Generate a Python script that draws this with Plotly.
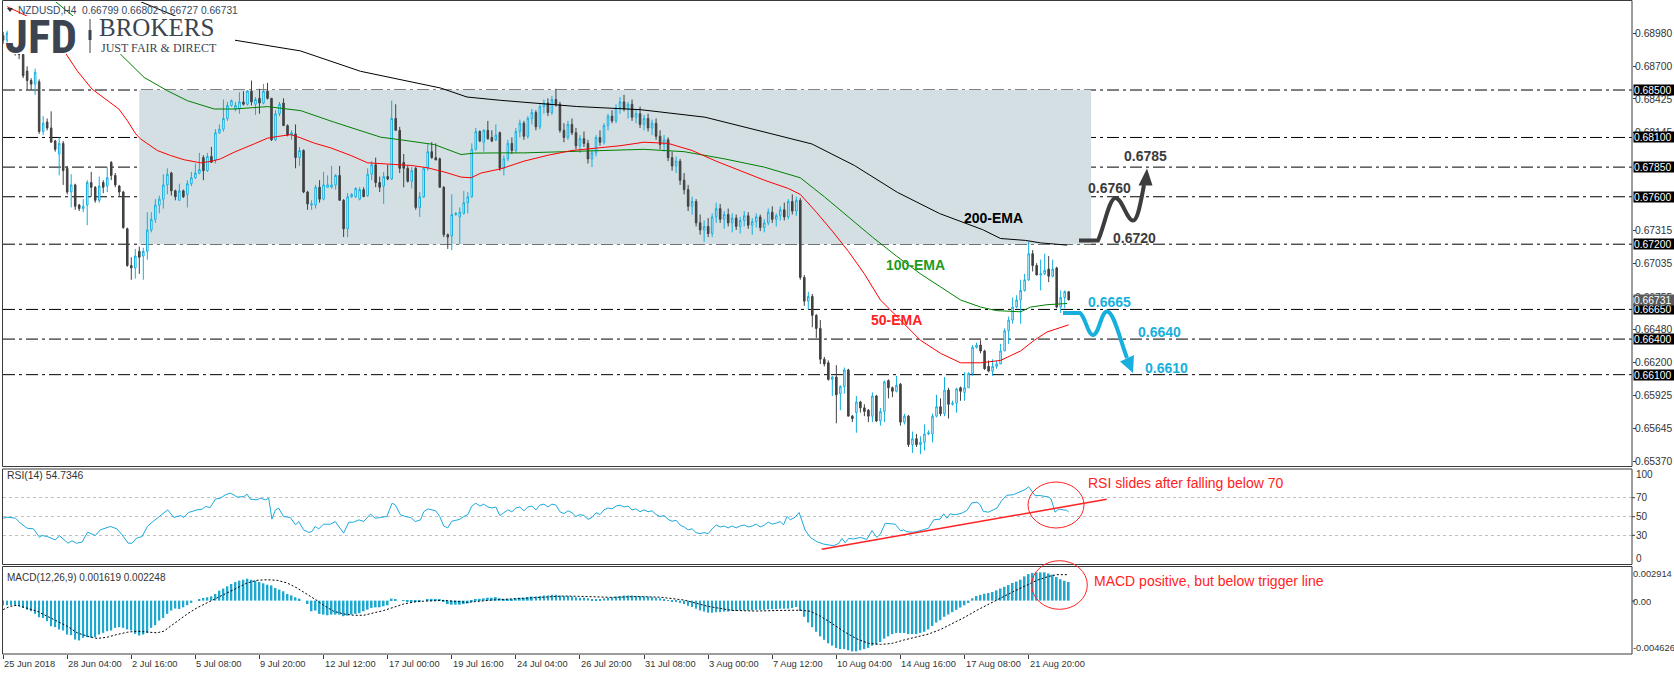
import plotly.graph_objects as go

W, H = 1674, 675
FONT = "Liberation Sans, Arial, sans-serif"
TXT = "#333333"
CYAN = "#12aee0"
DARK = "#404040"

# ---------------- candles (H4 bars, index 0 = 25 Jun 2018) ----------------
opens = [
    .6896, .6892, .6898, .6887, .6884, .6880, .6866, .6858, .6855, .6857,
    .6815, .6823, .6818, .6807, .6796, .6805, .6784, .6764, .6770, .6753,
    .6750, .6753, .6772, .6768, .6757, .6772, .6769, .6789, .6778, .6769,
    .6764, .6733, .6702, .6700, .6714, .6710, .6714, .6732, .6741, .6753,
    .6758, .6770, .6780, .6765, .6757, .6765, .6762, .6771, .6776, .6780,
    .6793, .6782, .6794, .6791, .6814, .6817, .6826, .6837, .6834, .6834,
    .6840, .6838, .6849, .6838, .6843, .6839, .6849, .6843, .6808, .6830,
    .6839, .6820, .6812, .6813, .6793, .6799, .6764, .6753, .6753, .6768,
    .6758, .6768, .6768, .6770, .6778, .6757, .6733, .6760, .6760, .6758,
    .6766, .6761, .6779, .6787, .6772, .6769, .6777, .6775, .6826, .6816,
    .6789, .6784, .6773, .6784, .6751, .6760, .6784, .6798, .6793, .6792,
    .6768, .6728, .6727, .6745, .6743, .6746, .6755, .6760, .6800, .6815,
    .6806, .6816, .6810, .6808, .6814, .6784, .6792, .6805, .6799, .6815,
    .6822, .6811, .6826, .6831, .6819, .6836, .6839, .6831, .6842, .6838,
    .6816, .6810, .6821, .6814, .6803, .6809, .6805, .6792, .6797, .6810,
    .6806, .6820, .6828, .6824, .6835, .6840, .6834, .6838, .6827, .6830,
    .6821, .6826, .6818, .6822, .6811, .6804, .6808, .6793, .6786, .6790,
    .6774, .6766, .6752, .6756, .6738, .6732, .6735, .6729, .6743, .6750,
    .6741, .6745, .6738, .6742, .6735, .6740, .6744, .6736, .6739, .6743,
    .6734, .6738, .6747, .6741, .6744, .6749, .6743, .6756, .6748, .6757,
    .6692, .6672, .6676, .6660, .6649, .6623, .6620, .6606, .6608, .6594,
    .6600, .6614, .6575, .6578, .6587, .6582, .6580, .6575, .6592, .6571,
    .6579, .6605, .6599, .6596, .6602, .6570, .6575, .6551, .6556, .6551,
    .6553, .6560, .6560, .6575, .6583, .6577, .6597, .6585, .6586, .6599,
    .6595, .6599, .6611, .6633, .6635, .6630, .6617, .6613, .6617, .6619,
    .6630, .6647, .6656, .6667, .6673, .6681, .6690, .6712, .6702, .6694,
    .6695, .6699, .6693, .6700, .6667, .6675, .66799,
]
highs = [
    .6899, .6900, .6899, .6890, .6886, .6882, .6870, .6860, .6868, .6859,
    .6828, .6826, .6832, .6808, .6810, .6807, .6786, .6779, .6771, .6754,
    .6758, .6774, .6781, .6769, .6777, .6774, .6785, .6790, .6780, .6770,
    .6765, .6734, .6709, .6716, .6718, .6717, .6747, .6747, .6758, .6761,
    .6779, .6784, .6781, .6766, .6771, .6766, .6774, .6781, .6788, .6797,
    .6795, .6797, .6802, .6817, .6821, .6842, .6840, .6842, .6840, .6848,
    .6849, .6850, .6858, .6844, .6851, .6855, .6856, .6843, .6833, .6840,
    .6843, .6821, .6816, .6821, .6802, .6800, .6765, .6757, .6770, .6774,
    .6781, .6778, .6786, .6779, .6786, .6758, .6763, .6763, .6768, .6768,
    .6768, .6784, .6790, .6793, .6777, .6781, .6787, .6841, .6838, .6819,
    .6796, .6786, .6785, .6785, .6764, .6785, .6805, .6806, .6805, .6793,
    .6769, .6729, .6762, .6747, .6751, .6765, .6764, .6805, .6818, .6816,
    .6817, .6824, .6816, .6821, .6815, .6795, .6808, .6810, .6818, .6825,
    .6824, .6828, .6834, .6833, .6838, .6842, .6843, .6845, .6851, .6840,
    .6822, .6824, .6826, .6818, .6812, .6815, .6808, .6800, .6812, .6816,
    .6822, .6830, .6833, .6838, .6844, .6846, .6840, .6842, .6834, .6836,
    .6829, .6830, .6825, .6826, .6816, .6812, .6810, .6798, .6794, .6792,
    .6780, .6770, .6760, .6758, .6745, .6740, .6742, .6746, .6755, .6754,
    .6748, .6750, .6746, .6745, .6743, .6748, .6747, .6742, .6746, .6745,
    .6741, .6750, .6752, .6746, .6752, .6755, .6758, .6762, .6760, .6759,
    .6694, .6680, .6678, .6661, .6656, .6625, .6622, .6609, .6618, .6601,
    .6616, .6615, .6576, .6592, .6588, .6585, .6581, .6595, .6593, .6582,
    .6605, .6606, .6600, .6609, .6603, .6577, .6576, .6562, .6560, .6558,
    .6568, .6563, .6577, .6593, .6590, .6608, .6599, .6588, .6599, .6600,
    .6612, .6612, .6635, .6637, .6639, .6631, .6622, .6623, .6622, .6636,
    .6649, .6659, .6675, .6677, .6690, .6695, .6722, .6715, .6704, .6707,
    .6712, .6710, .6707, .6701, .6681, .6681, .66802,
]
lows = [
    .6889, .6890, .6885, .6879, .6876, .6860, .6850, .6850, .6846, .6813,
    .6812, .6816, .6806, .6798, .6778, .6770, .6762, .6751, .6749, .6748,
    .6747, .6736, .6760, .6755, .6755, .6763, .6764, .6774, .6768, .6760,
    .6733, .6701, .6690, .6691, .6695, .6690, .6707, .6730, .6738, .6746,
    .6750, .6762, .6761, .6757, .6757, .6759, .6751, .6769, .6775, .6779,
    .6774, .6781, .6789, .6788, .6813, .6815, .6824, .6836, .6832, .6830,
    .6837, .6837, .6837, .6829, .6830, .6838, .6842, .6807, .6807, .6828,
    .6820, .6811, .6808, .6784, .6786, .6763, .6749, .6749, .6750, .6755,
    .6757, .6768, .6767, .6766, .6757, .6726, .6726, .6759, .6759, .6757,
    .6760, .6760, .6774, .6768, .6764, .6754, .6774, .6774, .6816, .6780,
    .6768, .6772, .6767, .6749, .6743, .6759, .6782, .6792, .6791, .6768,
    .6726, .6716, .6715, .6744, .6720, .6745, .6746, .6759, .6799, .6806,
    .6798, .6808, .6806, .6807, .6782, .6778, .6790, .6796, .6797, .6810,
    .6808, .6809, .6821, .6816, .6817, .6830, .6828, .6829, .6836, .6814,
    .6806, .6808, .6812, .6800, .6797, .6802, .6788, .6785, .6794, .6803,
    .6804, .6816, .6822, .6822, .6830, .6832, .6826, .6824, .6822, .6818,
    .6816, .6815, .6812, .6808, .6800, .6798, .6790, .6782, .6780, .6770,
    .6762, .6748, .6745, .6735, .6728, .6722, .6726, .6726, .6738, .6738,
    .6733, .6735, .6730, .6732, .6729, .6735, .6733, .6728, .6734, .6731,
    .6730, .6736, .6738, .6735, .6740, .6740, .6741, .6745, .6744, .6690,
    .6668, .6665, .6650, .6641, .6619, .6617, .6605, .6592, .6569, .6580,
    .6594, .6575, .6570, .6561, .6578, .6575, .6570, .6570, .6570, .6567,
    .6570, .6590, .6591, .6595, .6567, .6568, .6549, .6544, .6549, .6543,
    .6546, .6559, .6553, .6574, .6575, .6575, .6573, .6584, .6578, .6588,
    .6588, .6599, .6609, .6632, .6628, .6614, .6612, .6609, .6615, .6619,
    .6630, .6636, .6653, .6666, .6653, .6680, .6689, .6697, .6694, .6681,
    .6694, .6688, .6692, .6666, .6662, .6666, .66727,
]
closes = [
    .6892, .6898, .6887, .6884, .6880, .6862, .6858, .6855, .6865, .6815,
    .6822, .6818, .6806, .6800, .6805, .6782, .6764, .6770, .6752, .6750,
    .6752, .6772, .6768, .6757, .6769, .6768, .6776, .6778, .6770, .6764,
    .6734, .6702, .6700, .6710, .6709, .6714, .6732, .6741, .6753, .6758,
    .6770, .6779, .6765, .6760, .6765, .6760, .6771, .6776, .6780, .6783,
    .6782, .6794, .6789, .6814, .6817, .6826, .6837, .6841, .6837, .6840,
    .6838, .6849, .6840, .6842, .6839, .6849, .6843, .6808, .6830, .6838,
    .6820, .6812, .6814, .6793, .6799, .6764, .6754, .6754, .6768, .6758,
    .6770, .6770, .6770, .6778, .6757, .6733, .6760, .6762, .6767, .6766,
    .6760, .6779, .6787, .6772, .6768, .6777, .6775, .6826, .6816, .6784,
    .6784, .6773, .6782, .6751, .6760, .6784, .6798, .6793, .6791, .6768,
    .6728, .6726, .6745, .6746, .6747, .6755, .6760, .6800, .6815, .6807,
    .6816, .6809, .6807, .6812, .6784, .6792, .6805, .6799, .6815, .6822,
    .6811, .6826, .6831, .6819, .6836, .6839, .6831, .6842, .6838, .6816,
    .6810, .6821, .6814, .6803, .6809, .6805, .6792, .6797, .6810, .6806,
    .6820, .6828, .6824, .6835, .6840, .6834, .6838, .6827, .6830, .6821,
    .6826, .6818, .6822, .6811, .6804, .6808, .6793, .6786, .6790, .6774,
    .6766, .6752, .6756, .6738, .6732, .6735, .6729, .6743, .6750, .6741,
    .6745, .6738, .6742, .6735, .6740, .6744, .6736, .6739, .6743, .6734,
    .6738, .6747, .6741, .6744, .6749, .6743, .6756, .6748, .6757, .6692,
    .6672, .6676, .6660, .6649, .6623, .6619, .6606, .6608, .6593, .6600,
    .6614, .6575, .6573, .6587, .6582, .6579, .6575, .6592, .6571, .6579,
    .6604, .6599, .6596, .6601, .6570, .6575, .6551, .6556, .6551, .6553,
    .6560, .6561, .6575, .6583, .6577, .6597, .6585, .6586, .6598, .6596,
    .6599, .6611, .6633, .6635, .6630, .6615, .6613, .6617, .6619, .6630,
    .6647, .6656, .6667, .6673, .6681, .6690, .6712, .6702, .6694, .6695,
    .6698, .6693, .6699, .6667, .6675, .6680, .66731,
]
bars = list(range(len(opens)))

# ---------------- moving averages ----------------
ema50_bar = [1, 6.3, 15.6, 18.5, 22.2, 26, 28.9, 31, 33.1, 34.3, 36, 38.5, 41.8, 45.2, 49.3, 52.2,
             54.3, 57.7, 62.7, 66, 68.5, 71.8, 74.3, 77.7, 81.8, 86.8, 91, 96, 101.8, 106, 110.2,
             114.3, 116.8, 119.3, 124.3, 130, 136, 142, 148, 154, 160, 166, 172, 178, 184, 190,
             196, 199, 203, 207, 211, 215, 219, 224, 229, 234, 239, 244, 249, 254, 257.4, 260.6, 266]
ema50_val = [.69203, .69118, .68810, .68662, .68508, .68410, .68340, .68242, .68130, .68088, .68046,
             .67990, .67948, .67912, .67886, .67900, .67920, .67976, .68046, .68094, .68108, .68124,
             .68096, .68052, .68012, .67948, .67886, .67878, .67864, .67844, .67808, .67766, .67760,
             .67800, .67836, .6790, .6795, .6799, .6801, .6803, .6806, .6805, .6799, .6790, .6782,
             .6774, .6767, .6762, .6747, .6731, .6714, .6695, .6673, .6656, .6639, .6628, .6620,
             .6620, .6622, .6630, .6639, .6646, .6652]

ema100_bar = [13.1, 15.6, 29.3, 35.2, 41, 46, 52.7, 57.7, 66, 71, 74.3, 82.7, 94.3, 99.3, 107.7,
              114.3, 117.7, 124.3, 130, 140, 150, 160, 170, 180, 190, 199, 205, 211, 217, 223, 229,
              234, 239, 244, 248, 254, 256.5, 260.6, 265.6]
ema100_val = [.69245, .69175, .68802, .68606, .68494, .68410, .68340, .68340, .68360, .68340, .68326,
              .68228, .68102, .68080, .68040, .67956, .67968, .67970, .6797, .6798, .6799, .6800,
              .6798, .6792, .6785, .6776, .6760, .6743, .6726, .6710, .6695, .6684, .6673, .6667,
              .6664, .6663, .6667, .6669, .6670]

ema200_bar = [34.3, 57.5, 74.2, 89.2, 109.2, 115.8, 124.2, 143.2, 159.2, 175.2, 191.2, 201.9, 212.5,
              223.2, 233.8, 244.5, 249, 255.2, 259, 265.6]
ema200_val = [.69245, .68922, .68830, .68658, .68517, .68441, .68413, .68361, .68334, .68271, .68136,
              .68045, .67864, .67638, .67458, .67323, .67248, .67232, .67211, .67192]

# ---------------- RSI(14) ----------------
rsi_bar = [0, 1, 3.1, 4.3, 6, 7.6, 9.1, 9.7, 11, 13, 14.1, 15.1, 16.2, 17.2, 18.3, 19.7, 21.1, 23,
           24.3, 26.8, 28.4, 29.7, 31.2, 32.2, 33.3, 34.7, 36, 37.2, 38.4, 40.1, 41.1, 42.6, 44.3,
           45.1, 46.3, 48.4, 49.7, 50.5, 51.7, 53, 54.2, 55.5, 56.7, 57.6, 58.4, 60.1, 60.9, 61.7,
           63.4, 64.2, 65.5, 66.3, 67.1, 68, 68.8, 70, 71.7, 73, 73.8, 75, 76.3, 77.1, 77.9, 78.8,
           80, 81.7, 82.9, 83.8, 85, 86.3, 87.5, 88.8, 90, 91.7, 92.9, 94.2, 95.8, 97.1, 97.9, 99.2,
           100.4, 101.7, 102.9, 104.2,
           105, 106, 107, 108, 109, 110, 111, 112, 113, 114, 115, 116, 117, 118, 119, 120, 121, 122,
           123, 124, 125, 126, 127, 128, 129, 130, 131, 132, 133, 134, 135, 136, 137, 138, 139, 140,
           141, 142, 143, 144, 145, 146, 147, 148, 149, 150, 151, 152, 153, 154, 155, 156, 157, 158,
           159, 160, 161, 162, 163, 164, 165, 166, 167, 168, 169, 170, 171, 172, 173, 174, 175, 176,
           177, 178, 179, 180, 181, 182, 183, 184, 185, 186, 187, 188, 189, 190, 191, 192, 193,
           194, 194.8, 195.7, 196.5, 197.7, 198.7, 199.4, 200.2, 201.5, 203.2, 204.8, 206.1, 207.3,
           208.6, 209.4, 210.2, 211.1, 212.3, 214, 215.6, 216.9, 218.1, 219, 220.2, 221.5, 222.7,
           224, 224.8, 225.6, 226.9, 228.1, 229.8, 231, 232.3, 233.9, 234.8, 235.6, 236.4, 237.7,
           239.3, 240.6, 241.8, 243.1, 243.9, 244.7, 246, 248.1, 249.3, 250.6, 252.2, 253.9, 255.1,
           256, 256.8, 257.6, 258.9, 260.1, 261, 261.6, 262.1, 262.6, 263.5, 264.3, 265.5, 266]
rsi_val = [48.2, 49.3, 48.2, 43.0, 37.7, 37.0, 27.9, 30, 28.9, 25.4, 29.6, 25.4, 21.9, 24.4, 21.9, 23,
           33.5, 30, 36, 39.5, 37, 30.7, 21.9, 21.9, 27.2, 28.9, 39.5, 44, 48.2, 53.5, 57, 49, 51, 49,
           54.2, 57, 57.7, 60.5, 59.5, 68.3, 69.3, 72.8, 74.6, 72.8, 70.4, 71, 73.5, 68.3, 67.5, 69.3,
           67.5, 69.3, 47.2, 57, 58.8, 50, 49, 41.2, 44.7, 36, 33.2, 34.2, 39.5, 37, 41.9, 41.9, 44.7,
           39.5, 32.5, 44, 44, 46.5, 44.7, 52.5, 48.2, 49, 50, 64, 62.3, 51.8, 50, 49, 44.7, 46.5,
           55, 58, 57, 56, 50, 40, 38, 45, 46, 47, 50, 52, 61, 64, 61, 63, 60, 59, 60, 51, 54, 57, 55,
           59, 60, 56, 60, 61, 57, 62, 63, 60, 63, 62, 55, 53, 56, 54, 50, 52, 51, 47, 49, 54, 52, 57,
           59, 58, 61, 62, 60, 61, 57, 58, 55, 57, 55, 56, 52, 50, 51, 47, 45, 46, 41, 39, 36, 37, 33,
           32, 33, 32, 37, 41, 39, 40, 38, 40, 38, 40, 41, 39, 40, 42, 39, 41, 44, 42, 43,
           44.7, 41.2, 50, 46.5, 49.3, 54.2, 44.7, 35.8, 28, 23.4, 21, 19.9, 19.2, 21.7, 27, 22.4, 27,
           26.3, 28, 25.9, 35.1, 28, 31.6, 42.9, 42.2, 41.9, 35.1, 35.8, 34.1, 33.4, 34.1, 35.8, 37.6,
           46.5, 47.2, 52.8, 48.2, 52.8, 51.8, 53.5, 56.4, 64.2, 65.2, 62.4, 55.3, 54.6, 58.9, 67,
           72.3, 73, 76.6, 78.3, 81.2, 76.6, 72, 72, 71.2, 70.5, 68.4, 62.4, 54.6, 57.8, 57.1, 56.4,
           54.7346]

# ---------------- MACD(12,26,9) ----------------
macd_main = [
    -0.00040, -0.00040, -0.00040, -0.00040, -0.00049, -0.00063, -0.00078, -0.00092, -0.00115, -0.00144,
    -0.00150, -0.00178, -0.00222, -0.00230, -0.00250, -0.00259, -0.00294, -0.00299, -0.00337, -0.00345,
    -0.00322, -0.00317, -0.00322, -0.00317, -0.00294, -0.00279, -0.00265, -0.00259, -0.00236, -0.00230,
    -0.00236, -0.00250, -0.00259, -0.00288, -0.00302, -0.00294, -0.00279, -0.00236, -0.00213, -0.00173,
    -0.00150, -0.00115, -0.00086, -0.00069, -0.00072, -0.00058, -0.00040, -0.00020, 0.00000, 0.00009,
    0.00023, 0.00029, 0.00037, 0.00058, 0.00086, 0.00104, 0.00124, 0.00144, 0.00161, 0.00173,
    0.00181, 0.00190, 0.00181, 0.00173, 0.00161, 0.00150, 0.00138, 0.00132, 0.00109, 0.00095,
    0.00081, 0.00058, 0.00046, 0.00029, 0.00017, 0.00000, -0.00029, -0.00092, -0.00086, -0.00115,
    -0.00121, -0.00127, -0.00121, -0.00121, -0.00121, -0.00135, -0.00130, -0.00121, -0.00115, -0.00109,
    -0.00092, -0.00078, -0.00063, -0.00058, -0.00058, -0.00049, -0.00040, 0.00017, 0.00014, 0.00000,
    0.00003, -0.00006, -0.00006, -0.00006, -0.00006, 0.00000, 0.00010, 0.00015, 0.00015, 0.00010,
    -0.00010, -0.00030, -0.00035, -0.00035, -0.00035, -0.00030, -0.00025, -0.00005, 0.00010, 0.00015,
    0.00020, 0.00025, 0.00025, 0.00030, 0.00020, 0.00015, 0.00015, 0.00015, 0.00020, 0.00025,
    0.00025, 0.00030, 0.00035, 0.00035, 0.00040, 0.00045, 0.00045, 0.00050, 0.00050, 0.00045,
    0.00040, 0.00040, 0.00035, 0.00030, 0.00025, 0.00025, 0.00020, 0.00015, 0.00015, 0.00015,
    0.00020, 0.00025, 0.00030, 0.00035, 0.00040, 0.00045, 0.00045, 0.00045, 0.00040, 0.00040,
    0.00035, 0.00035, 0.00030, 0.00025, 0.00020, 0.00015, 0.00005, -0.00005, -0.00010, -0.00020,
    -0.00030, -0.00045, -0.00055, -0.00070, -0.00085, -0.00095, -0.00105, -0.00105, -0.00100, -0.00100,
    -0.00095, -0.00095, -0.00090, -0.00090, -0.00085, -0.00085, -0.00085, -0.00085, -0.00080, -0.00080,
    -0.00080, -0.00075, -0.00075, -0.00075, -0.00070, -0.00070, -0.00070, -0.00065, -0.00055, -0.00090,
    -0.00140, -0.00190, -0.00230, -0.00270, -0.00310, -0.00340, -0.00370, -0.00390, -0.00410, -0.00420,
    -0.00420, -0.00430, -0.00440, -0.00440, -0.00430, -0.00420, -0.00410, -0.00390, -0.00380, -0.00360,
    -0.00330, -0.00310, -0.00290, -0.00280, -0.00280, -0.00280, -0.00290, -0.00290, -0.00290, -0.00280,
    -0.00270, -0.00250, -0.00220, -0.00190, -0.00170, -0.00140, -0.00120, -0.00100, -0.00080, -0.00060,
    -0.00040, -0.00020, 0.00020, 0.00040, 0.00050, 0.00060, 0.00066, 0.00075, 0.00089, 0.00105,
    0.00120, 0.00135, 0.00153, 0.00165, 0.00181, 0.00210, 0.00230, 0.00240, 0.00245, 0.00245,
    0.00245, 0.00235, 0.00225, 0.00204, 0.00185, 0.00172, 0.001619,
]
signal_bar = [0, 1.8, 3.5, 6, 8.5, 11, 13.5, 16, 18.5, 21, 23.5, 26, 28.4, 31, 33.4, 36, 38.4, 40.1,
              41.8, 43.4, 46, 48.4, 50.9, 53.4, 55.9, 58.4, 60.9, 63.4, 65.9, 68.4, 70.9, 73.4, 75.9,
              78.4, 80, 82.5, 85, 87.5, 90, 92.5, 95, 97.5, 100, 102.5, 104.2, 110, 116, 122, 128,
              134, 140, 146, 152, 158, 164, 170, 176, 182, 188, 194, 199, 201.5, 204, 207, 210, 213,
              216, 219, 222, 225, 228, 231, 234, 237, 240, 243, 246, 249, 252, 255, 258, 261, 263, 266]
signal_val = [-0.00078, -0.00049, -0.00040, -0.00063, -0.00092, -0.00135, -0.00178, -0.00222, -0.00279,
              -0.00308, -0.00328, -0.00317, -0.00294, -0.00274, -0.00265, -0.00274, -0.00279, -0.00265,
              -0.00222, -0.00178, -0.00115, -0.00063, -0.00020, 0.00023, 0.00066, 0.00115, 0.00153,
              0.00176, 0.00181, 0.00176, 0.00153, 0.00109, 0.00058, 0.00000, -0.00040, -0.00092,
              -0.00115, -0.00127, -0.00127, -0.00107, -0.00086, -0.00058, -0.00029, -0.00012, -0.00006,
              0.00002, -0.00015, 0.00005, 0.00018, 0.00030, 0.00040, 0.00035, 0.00028, 0.00035, 0.00030,
              0.00005, -0.00050, -0.00085, -0.00090, -0.00085, -0.00083, -0.00092, -0.00135, -0.00200,
              -0.00270, -0.00330, -0.00370, -0.00380, -0.00370, -0.00340, -0.00315, -0.00290, -0.00250,
              -0.00200, -0.00145, -0.00085, -0.00030, 0.00025, 0.00075, 0.00125, 0.00175, 0.00210,
              0.00225, 0.002248]

# ---------------- axes labels / levels ----------------
date_label_bars = [0, 16, 32, 48, 64, 80, 96, 112, 128, 144, 160, 176, 192, 208, 224, 240, 256]
date_labels = ["25 Jun 2018", "28 Jun 04:00", "2 Jul 16:00", "5 Jul 08:00", "9 Jul 20:00",
               "12 Jul 12:00", "17 Jul 00:00", "19 Jul 16:00", "24 Jul 04:00", "26 Jul 20:00",
               "31 Jul 08:00", "3 Aug 00:00", "7 Aug 12:00", "10 Aug 04:00", "14 Aug 16:00",
               "17 Aug 08:00", "21 Aug 20:00"]
price_ticks = [0.68980, 0.68700, 0.68425, 0.68145, 0.67315, 0.67035, 0.66755,
               0.66480, 0.66200, 0.65925, 0.65645, 0.65370]
level_prices = [0.6850, 0.6810, 0.6785, 0.6760, 0.6720, 0.6665, 0.6640, 0.6610]
last_price = 0.66731
zone_bars = [34.0, 271.6]
zone_prices = [0.6720, 0.6850]
rsi_levels = [70, 50, 30]
rsi_axis = [(100, 474), (70, 497.7), (50, 516.7), (30, 535.3), (0, 558.3)]
macd_axis = [("0.002914", 574.3), ("0.00", 601.5), ("-0.004626", 648.3)]
MACD_MIN, MACD_MAX = -0.004626, 0.002914

# ---------------- geometry ----------------
def PX(x):
    return x / W

def PY(y):
    return 1 - y / H

X_L, X_R = 3, 1632
BAR0_PX, STEP_PX = 3.1, 4.006
x_range = [(X_L - BAR0_PX) / STEP_PX, (X_R - BAR0_PX) / STEP_PX]
MAIN_TOP, MAIN_BOT = 2, 467.5
P_REF, Y_REF, K = 0.6720, 244.2, 11860.0
main_range = [P_REF - (MAIN_BOT - Y_REF) / K, P_REF + (Y_REF - MAIN_TOP) / K]


def ppath(*segs):
    out = []
    for seg in segs:
        cmd, pts = seg[0], seg[1:]
        coords = [f"{PX(pts[k]):.5f},{PY(pts[k + 1]):.5f}" for k in range(0, len(pts), 2)]
        out.append((cmd + " " + " ".join(coords)).strip())
    return " ".join(out)


fig = go.Figure()

fig.add_trace(go.Candlestick(
    x=bars, open=opens, high=highs, low=lows, close=closes, xaxis="x", yaxis="y",
    increasing=dict(line=dict(color=CYAN, width=1), fillcolor="#ffffff"),
    decreasing=dict(line=dict(color=DARK, width=1), fillcolor=DARK),
    whiskerwidth=0, hoverinfo="skip", showlegend=False))

for xs, ys, col in [(ema200_bar, ema200_val, "#000000"), (ema100_bar, ema100_val, "#008000"),
                    (ema50_bar, ema50_val, "#ff0000")]:
    fig.add_trace(go.Scatter(x=xs, y=ys, mode="lines", line=dict(color=col, width=1),
                             xaxis="x", yaxis="y", hoverinfo="skip", showlegend=False))

fig.add_trace(go.Scatter(x=rsi_bar, y=rsi_val, mode="lines", line=dict(color="#1aa9dc", width=1),
                         xaxis="x", yaxis="y2", hoverinfo="skip", showlegend=False))

fig.add_trace(go.Bar(x=bars, y=macd_main, width=0.45, marker=dict(color="#1ea7cf", line=dict(width=0)),
                     xaxis="x", yaxis="y3", hoverinfo="skip", showlegend=False))
fig.add_trace(go.Scatter(x=signal_bar, y=signal_val, mode="lines",
                         line=dict(color="#000000", width=1, dash="2px,2px"),
                         xaxis="x", yaxis="y3", hoverinfo="skip", showlegend=False))

shapes = []
# grey zone
shapes.append(dict(type="rect", xref="x", yref="y", x0=zone_bars[0], x1=zone_bars[1],
                   y0=zone_prices[0], y1=zone_prices[1], fillcolor="#d3dfe3",
                   line=dict(width=0), layer="below"))
# horizontal levels
for p in level_prices:
    shapes.append(dict(type="line", xref="paper", yref="y", x0=PX(X_L), x1=PX(X_R), y0=p, y1=p,
                       line=dict(color="#ffffff", width=1), layer="below"))
    shapes.append(dict(type="line", xref="paper", yref="y", x0=PX(X_L), x1=PX(X_R), y0=p, y1=p,
                       line=dict(color="#000000", width=1, dash="12px,4px,3px,4px"), layer="below"))
# RSI levels
for lv in rsi_levels:
    shapes.append(dict(type="line", xref="paper", yref="y2", x0=PX(X_L), x1=PX(X_R), y0=lv, y1=lv,
                       line=dict(color="#c0c0c0", width=1, dash="3px,3px"), layer="below"))
# panel frames
BORDER = "#3a3a3a"
for (t, b) in [(0.5, 466.5), (469, 564.5), (566.5, 654)]:
    shapes.append(dict(type="rect", xref="paper", yref="paper", x0=PX(2.5), x1=PX(X_R), y0=PY(b), y1=PY(t),
                       line=dict(color=BORDER, width=1), fillcolor="rgba(0,0,0,0)", layer="above"))
# right axis ticks for RSI / MACD
for v, y in rsi_axis[1:4]:
    shapes.append(dict(type="line", xref="paper", yref="paper", x0=PX(X_R), x1=PX(X_R + 3),
                       y0=PY(y), y1=PY(y), line=dict(color=BORDER, width=1)))
shapes.append(dict(type="line", xref="paper", yref="paper", x0=PX(X_R), x1=PX(X_R + 3),
                   y0=PY(601), y1=PY(601), line=dict(color=BORDER, width=1)))

# logo backdrop
shapes.append(dict(type="rect", xref="paper", yref="paper", x0=PX(8), x1=PX(235), y0=PY(54), y1=PY(16),
                   fillcolor="#ffffff", line=dict(width=0), layer="above"))
shapes.append(dict(type="line", xref="paper", yref="paper", x0=PX(90), x1=PX(90), y0=PY(53), y1=PY(19),
                   line=dict(color="#3b4450", width=1), layer="above"))
shapes.append(dict(type="line", xref="paper", yref="paper", x0=PX(90), x1=PX(90), y0=PY(40), y1=PY(30),
                   line=dict(color="#3b4450", width=3), layer="above"))
# small menu triangle
shapes.append(dict(type="path", xref="paper", yref="paper",
                   path=ppath(("M", 7, 8), ("L", 13, 8), ("L", 10, 12), ("Z",)),
                   fillcolor="#333333", line=dict(width=0), layer="above"))

# scenario arrows
ARROW_DARK = "#3d3d3d"
ARROW_CYAN = "#17b0de"
shapes.append(dict(type="path", xref="paper", yref="paper", layer="above",
                   path=ppath(("M", 1079, 240.5), ("L", 1098, 240.5),
                              ("C", 1104, 228, 1109, 198, 1115.5, 198),
                              ("C", 1122, 198, 1127, 220.5, 1133, 220.5),
                              ("C", 1138, 220.5, 1141, 200, 1144, 185)),
                   line=dict(color=ARROW_DARK, width=4), fillcolor="rgba(0,0,0,0)"))
shapes.append(dict(type="path", xref="paper", yref="paper", layer="above",
                   path=ppath(("M", 1138.5, 185.5), ("L", 1152.5, 185.5), ("L", 1147, 168.5), ("Z",)),
                   line=dict(width=0), fillcolor=ARROW_DARK))
shapes.append(dict(type="path", xref="paper", yref="paper", layer="above",
                   path=ppath(("M", 1063, 313), ("L", 1080, 313),
                              ("C", 1085, 316, 1088, 335, 1093, 335),
                              ("C", 1099, 335, 1101, 311.5, 1107, 311.5),
                              ("C", 1114, 311.5, 1120, 340, 1127, 358)),
                   line=dict(color=ARROW_CYAN, width=4), fillcolor="rgba(0,0,0,0)"))
shapes.append(dict(type="path", xref="paper", yref="paper", layer="above",
                   path=ppath(("M", 1120, 361.5), ("L", 1134, 355), ("L", 1133, 373), ("Z",)),
                   line=dict(width=0), fillcolor=ARROW_CYAN))

# RSI trendline + circles
RED = "#ff2222"
shapes.append(dict(type="line", xref="paper", yref="paper", x0=PX(821.7), y0=PY(549.3), x1=PX(1106.7),
                   y1=PY(499.3), line=dict(color=RED, width=1.5), layer="above"))
shapes.append(dict(type="circle", xref="paper", yref="paper", x0=PX(1028), x1=PX(1084), y0=PY(528),
                   y1=PY(482), line=dict(color=RED, width=1), layer="above"))
shapes.append(dict(type="circle", xref="paper", yref="paper", x0=PX(1031.7), x1=PX(1087.3), y0=PY(609.3),
                   y1=PY(560.7), line=dict(color=RED, width=1), layer="above"))

annotations = []


def txt(x, y, text, size=9.5, color=TXT, xanchor="left", family=FONT, weight="normal", **kw):
    annotations.append(dict(x=PX(x), y=PY(y), xref="paper", yref="paper", text=text, showarrow=False,
                            xanchor=xanchor, yanchor="middle", borderpad=0,
                            font=dict(family=family, size=size, color=color, weight=weight), **kw))


# title and indicator captions
txt(17, 10, "NZDUSD,H4\u00a0\u00a00.66799 0.66802 0.66727 0.66731", size=10.2, color="#34495e")
txt(6, 476, "RSI(14) 54.7346", size=10.4)
txt(6, 577, "MACD(12,26,9) 0.001619 0.002248", size=10)

# logo
txt(4, 36, "JFD", size=47, color="#3b4450", weight="bold", height=38,
    family="Liberation Sans Narrow, Roboto Condensed, Liberation Sans, Arial")
txt(98, 27, "BROKERS", size=25, color="#3b4450", family="Liberation Serif, Times New Roman, serif")
txt(100, 47.5, "JUST FAIR &amp; DIRECT", size=12, color="#3b4450",
    family="Liberation Serif, Times New Roman, serif")

# RSI / MACD axis labels
for v, y in rsi_axis:
    txt(1635, y, str(v), size=10)
for s, y in macd_axis:
    txt(1632, y, s, size=9.3)

# level boxes
for p in level_prices:
    annotations.append(dict(x=PX(1633), y=p, xref="paper", yref="y", text=f"{p:.5f}", showarrow=False,
                            xanchor="left", yanchor="middle", bgcolor="#000000", width=41, height=10,
                            align="left", borderpad=0,
                            font=dict(family=FONT, size=10.3, color="#ffffff")))
annotations.append(dict(x=PX(1633), y=last_price, xref="paper", yref="y", text=f"{last_price:.5f}",
                        showarrow=False, xanchor="left", yanchor="middle", bgcolor="#5b5b5b", width=41,
                        height=10, align="left", borderpad=0,
                        font=dict(family=FONT, size=10.3, color="#ffffff")))

# date labels
for b, lab in zip(date_label_bars, date_labels):
    annotations.append(dict(x=b, y=PY(663.5), xref="x", yref="paper", text=lab, showarrow=False,
                            xanchor="left", yanchor="middle", borderpad=0,
                            font=dict(family=FONT, size=9.3, color=TXT)))

# chart notes
BOLD = dict(weight="bold", size=14)
txt(963, 218, "200-EMA", color="#000000", **BOLD)
txt(885, 265, "100-EMA", color="#1e9a1e", **BOLD)
txt(870, 320, "50-EMA", color="#ff2020", **BOLD)
txt(1123, 156, "0.6785", color="#3c3c3c", **BOLD)
txt(1087, 188, "0.6760", color="#3c3c3c", **BOLD)
txt(1112, 238, "0.6720", color="#3c3c3c", **BOLD)
txt(1087, 302, "0.6665", color=ARROW_CYAN, **BOLD)
txt(1137, 332, "0.6640", color=ARROW_CYAN, **BOLD)
txt(1144, 368, "0.6610", color=ARROW_CYAN, **BOLD)
txt(1087, 483, "RSI slides after falling below 70", color=RED, size=14)
txt(1093, 580.5, "MACD positive, but below trigger line", color=RED, size=14)

fig.update_layout(
    width=W, height=H, margin=dict(l=0, r=0, t=0, b=0), paper_bgcolor="#ffffff",
    plot_bgcolor="rgba(0,0,0,0)", showlegend=False, boxgap=0.45, hovermode=False,
    xaxis=dict(domain=[PX(X_L), PX(X_R)], range=x_range, anchor="y3", showgrid=False, zeroline=False,
               showline=False, ticks="outside", ticklen=4, tickwidth=1, tickcolor=BORDER,
               tickvals=date_label_bars, showticklabels=False, rangeslider=dict(visible=False),
               fixedrange=True),
    yaxis=dict(domain=[PY(MAIN_BOT), PY(MAIN_TOP)], range=main_range, side="right", anchor="x",
               showgrid=False, zeroline=False, showline=False, ticks="outside", ticklen=3,
               tickcolor=BORDER, tickvals=price_ticks, ticktext=[f"{v:.5f}" for v in price_ticks],
               tickfont=dict(family=FONT, size=10.3, color=TXT), ticklabelstandoff=-3,
               fixedrange=True),
    yaxis2=dict(domain=[PY(564), PY(469)], range=[0, 100], anchor="x", showgrid=False, zeroline=False,
                showticklabels=False, ticks="", fixedrange=True),
    yaxis3=dict(domain=[PY(654), PY(567)], range=[MACD_MIN, MACD_MAX], anchor="x", showgrid=False,
                zeroline=False, showticklabels=False, ticks="", fixedrange=True),
    shapes=shapes, annotations=annotations,
)

fig.write_html("out.html", config={"displayModeBar": False})
